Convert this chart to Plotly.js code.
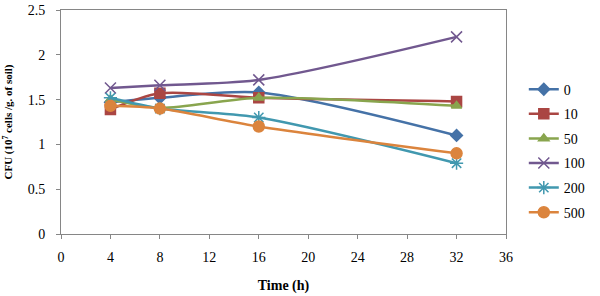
<!DOCTYPE html>
<html><head><meta charset="utf-8">
<script src="https://cdn.plot.ly/plotly-3.0.1.min.js"></script>
<style>html,body{margin:0;padding:0;background:#fff}#chart{width:600px;height:296px}</style>
</head><body><div id="chart"></div>
<script>
const hours = [4, 8, 16, 32];
const seriesNames = ["0", "10", "50", "100", "200", "500"];
const s0 = [1.47, 1.52, 1.58, 1.10];
const s10 = [1.39, 1.57, 1.52, 1.48];
const s50 = [1.50, 1.41, 1.52, 1.43];
const s100 = [1.63, 1.66, 1.72, 2.20];
const s200 = [1.52, 1.40, 1.30, 0.79];
const s500 = [1.43, 1.40, 1.20, 0.90];
const xTicks = [0, 4, 8, 12, 16, 20, 24, 28, 32, 36];
const yTicks = [0, 0.5, 1, 1.5, 2, 2.5];
const yTickText = ["0", "0.5", "1", "1.5", "2", "2.5"];

const FONT = "'Times New Roman', 'Liberation Serif', serif";
const values = [s0, s10, s50, s100, s200, s500];
const colors = ["#4572A7", "#AA4643", "#89A54E", "#71588F", "#4198AF", "#DB843D"];
const symbols = ["diamond", "square", "triangle-up", "x-thin-open", "asterisk-open", "circle"];
const sizes = [9, 10, 9, 11, 11, 11];

const traces = values.map((v, i) => ({
  x: hours, y: v, name: seriesNames[i], type: "scatter", mode: "lines+markers",
  legendgroup: "g" + i,
  line: {color: colors[i], width: 2.5, shape: "spline", smoothing: 0.8},
  marker: {color: colors[i], symbol: symbols[i], size: sizes[i], line: {color: colors[i], width: 1.5}}
}));

const layout = {
  width: 600, height: 296,
  margin: {l: 61, r: 90, t: 10, b: 62},
  paper_bgcolor: "#fff", plot_bgcolor: "#fff",
  font: {family: FONT, size: 14, color: "#000"},
  xaxis: {
    range: [0, 36], tickvals: xTicks, ticktext: xTicks.map(String),
    showgrid: false, zeroline: false, showline: true, linecolor: "#868686", linewidth: 1,
    mirror: true, ticks: "outside", ticklen: 4, tickcolor: "#868686",
    ticklabelstandoff: 6,
    tickfont: {family: FONT, size: 14, color: "#000"},
    title: {text: "<b>Time (h)</b>", font: {family: FONT, size: 14, color: "#000"}, standoff: 16}
  },
  yaxis: {
    range: [0, 2.5], tickvals: yTicks, ticktext: yTickText,
    showgrid: false, zeroline: false, showline: true, linecolor: "#868686", linewidth: 1,
    mirror: true, ticks: "outside", ticklen: 4, tickcolor: "#868686",
    ticklabelstandoff: 8,
    tickfont: {family: FONT, size: 14, color: "#000"},
    title: {text: "<b>CFU (10<sup>7</sup> cells /g. of soil)</b>", font: {family: FONT, size: 11, color: "#000"}, standoff: 12}
  },
  showlegend: true,
  legend: {
    x: 1.04, xanchor: "left", y: 0.37, yanchor: "middle",
    font: {family: FONT, size: 14, color: "#000"}, traceorder: "grouped", tracegroupgap: 3.4,
    bgcolor: "rgba(0,0,0,0)", itemwidth: 30
  }
};
Plotly.newPlot("chart", traces, layout, {displayModeBar: false, staticPlot: true});
</script></body></html>
